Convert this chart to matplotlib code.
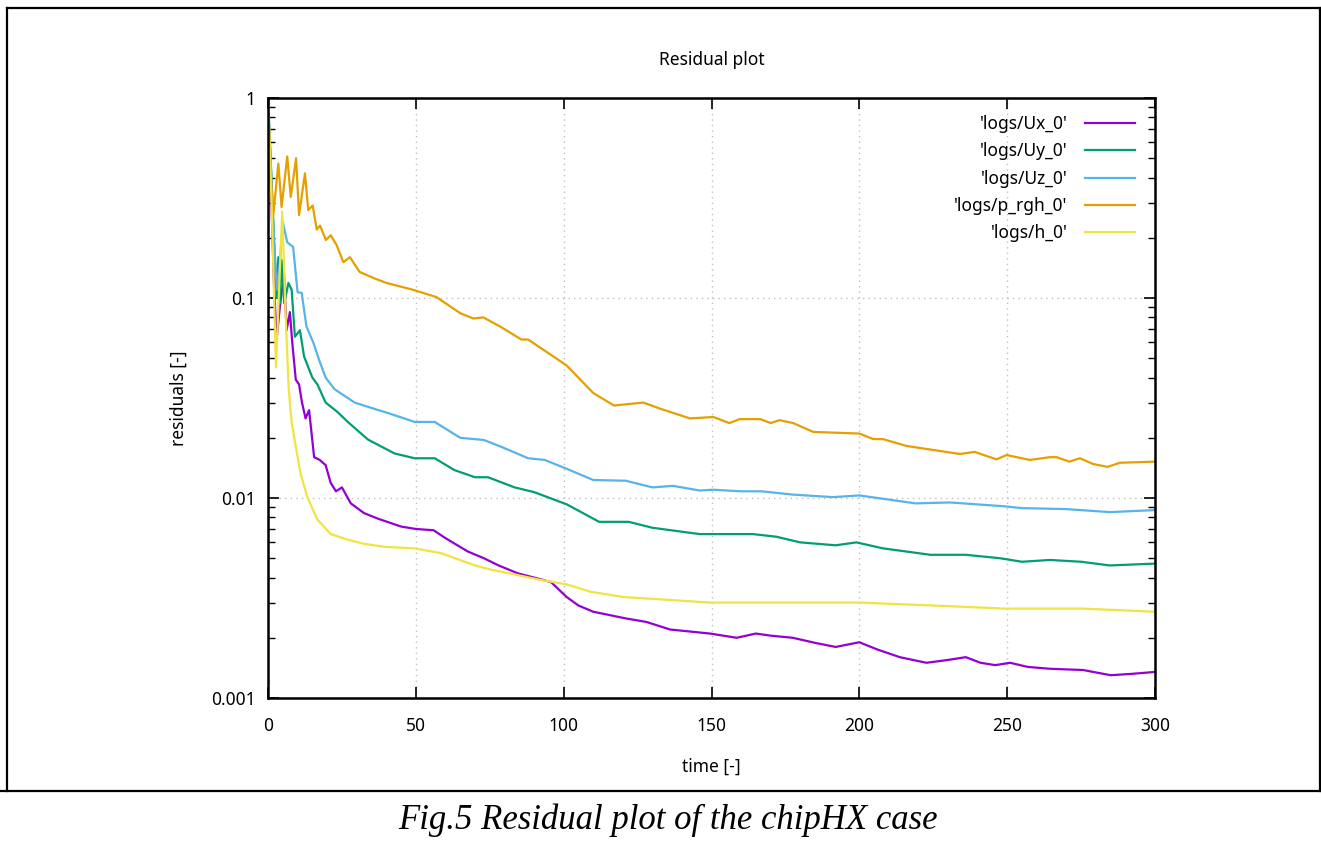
import matplotlib
matplotlib.use('Agg')
import matplotlib.pyplot as plt
from matplotlib.lines import Line2D
from matplotlib.ticker import LogLocator, FixedLocator, NullFormatter

plt.rcParams['font.family'] = ['Noto Sans', 'DejaVu Sans']

W, H = 1321, 841

# residual histories (time, residual)
ux_t = [0, 1, 2, 2.9, 4, 5.4, 6.3, 7.4, 8.2, 9.4,
        10.5, 11.5, 12.7, 13.9, 15.6, 17.5, 19.5, 21.2, 23, 25,
        28, 32.5, 37, 45, 50, 56, 60, 67.6, 73, 78,
        84.5, 90, 95.7, 101, 105, 110, 121, 128, 136, 149.5,
        158.5, 165, 170, 177.5, 185.5, 192, 200, 206, 213.7, 222.7,
        230, 236, 241, 246, 251, 257, 264.5, 275.7, 285, 292, 300]
ux_v = [1, 0.35, 0.12, 0.062, 0.09, 0.133, 0.069, 0.085, 0.06, 0.039,
        0.037, 0.03, 0.025, 0.0275, 0.016, 0.0155, 0.0146, 0.0119, 0.0108, 0.0113,
        0.0094, 0.0084, 0.0079, 0.0072, 0.007, 0.0069, 0.0063, 0.0054, 0.005, 0.0046,
        0.0042, 0.004, 0.0038, 0.0032, 0.0029, 0.0027, 0.0025, 0.0024, 0.0022, 0.0021,
        0.0020, 0.0021, 0.00205, 0.002, 0.00188, 0.0018, 0.0019, 0.00175, 0.0016, 0.0015,
        0.00155, 0.0016, 0.0015, 0.00146, 0.0015, 0.00143, 0.0014, 0.00138, 0.0013, 0.00132, 0.00135]

uy_t = [0, 1, 2, 3, 3.5, 4, 4.6, 5.5, 6.9, 8,
        9.1, 10.8, 12.2, 15, 16.7, 19.5, 23.4, 27, 33.8, 42.8,
        49.6, 56.4, 63, 70, 74.4, 83.4, 90, 101, 112, 122,
        130, 146, 164, 172, 180, 192, 199, 208, 224, 236,
        247.5, 255, 264.5, 275, 284.7, 300]
uy_v = [1, 0.45, 0.2, 0.1, 0.16, 0.094, 0.155, 0.094, 0.119, 0.11,
        0.064, 0.069, 0.051, 0.04, 0.037, 0.03, 0.027, 0.024, 0.0196, 0.0167,
        0.0158, 0.0158, 0.0138, 0.0127, 0.0127, 0.0113, 0.0107, 0.0093, 0.0076, 0.0076,
        0.0071, 0.0066, 0.0066, 0.0064, 0.006, 0.0058, 0.006, 0.0056, 0.0052, 0.0052,
        0.005, 0.0048, 0.0049, 0.0048, 0.0046, 0.0047]

uz_t = [0, 1, 2, 3, 4, 5, 6.5, 8.5, 10, 11.4,
        13, 15.3, 17.5, 19.5, 22.5, 29.3, 37, 40.6, 49.6, 56.4,
        65, 73, 79, 88, 93.6, 101, 110, 121, 130, 137,
        146, 150.5, 160, 167, 177.5, 191, 200, 219, 230.6, 248.6,
        255, 270, 284.7, 300]
uz_v = [1, 0.45, 0.2, 0.11, 0.15, 0.24, 0.19, 0.18, 0.107, 0.106,
        0.072, 0.06, 0.048, 0.04, 0.035, 0.03, 0.0276, 0.0266, 0.024, 0.024,
        0.02, 0.0195, 0.018, 0.0158, 0.0155, 0.014, 0.0123, 0.0122, 0.0113, 0.0115,
        0.0109, 0.011, 0.0108, 0.0108, 0.0104, 0.0101, 0.0103, 0.0094, 0.0095, 0.0091,
        0.0089, 0.0088, 0.0085, 0.0087]

prgh_t = [0, 1.6, 3.5, 4.6, 6.5, 7.7, 9.5, 10.5, 12.5, 13.6,
          15.1, 16.5, 17.6, 19.6, 21.2, 23.2, 25.5, 27.7, 31, 35.6,
          40, 49, 57, 65, 69.4, 72.8, 78.5, 85.7, 88, 101,
          110, 117, 127, 132.5, 142.7, 150.6, 156, 159.6, 166.5, 170,
          173, 177.6, 184.4, 200, 204.7, 208, 216, 234, 239, 246.4,
          249.8, 257.7, 264.5, 266.7, 271, 274.6, 279, 284, 288, 300]
prgh_v = [1, 0.245, 0.47, 0.285, 0.51, 0.32, 0.5, 0.26, 0.42, 0.275,
          0.29, 0.22, 0.23, 0.195, 0.206, 0.184, 0.151, 0.16, 0.135, 0.126,
          0.119, 0.11, 0.101, 0.084, 0.079, 0.08, 0.072, 0.062, 0.062, 0.046,
          0.0335, 0.029, 0.03, 0.028, 0.025, 0.0254, 0.0237, 0.0248, 0.0248, 0.0237,
          0.0245, 0.0237, 0.0214, 0.021, 0.0197, 0.0197, 0.0182, 0.0166, 0.017, 0.0156,
          0.0164, 0.0155, 0.016, 0.016, 0.0152, 0.0158, 0.0148, 0.0143, 0.015, 0.0152]

h_t = [0, 1.2, 2.7, 4.8, 6, 7, 8, 9.4, 11, 13.3,
       16.7, 21.2, 26.8, 32.5, 39.5, 49.6, 58.5, 70, 75, 85,
       92, 101, 109, 120, 149.5, 170, 200, 225, 249, 275, 300]
h_v = [1, 0.3, 0.045, 0.27, 0.08, 0.035, 0.024, 0.018, 0.0133, 0.0101,
       0.0078, 0.0066, 0.0062, 0.0059, 0.0057, 0.0056, 0.0053, 0.0046, 0.0044, 0.0041,
       0.0039, 0.0037, 0.0034, 0.0032, 0.003, 0.003, 0.003, 0.0029, 0.0028, 0.0028, 0.0027]

labels = ["'logs/Ux_0'", "'logs/Uy_0'", "'logs/Uz_0'", "'logs/p_rgh_0'", "'logs/h_0'"]
colors = ['#9400d3', '#009e73', '#56b4e9', '#e69f00', '#f0e442']
xticks = [0, 50, 100, 150, 200, 250, 300]
yticks = [0.001, 0.01, 0.1, 1]
ytick_labels = ['0.001', '0.01', '0.1', '1']

fs = 12.5

fig = plt.figure(figsize=(W / 100, H / 100), dpi=100)
ax = fig.add_axes([268 / W, 1 - 698 / H, 887 / W, 600 / H])

series = [(ux_t, ux_v), (uy_t, uy_v), (uz_t, uz_v), (prgh_t, prgh_v), (h_t, h_v)]
for (t, v), c, lab in zip(series, colors, labels):
    ax.plot(t, v, color=c, lw=1.6, label=lab)

ax.set_yscale('log')
ax.set_xlim(0, 300)
ax.set_ylim(0.001, 1)
ax.xaxis.set_major_locator(FixedLocator(xticks))
ax.yaxis.set_major_locator(FixedLocator(yticks))
ax.set_yticklabels(ytick_labels)
ax.yaxis.set_minor_locator(LogLocator(base=10, subs=range(2, 10)))
ax.yaxis.set_minor_formatter(NullFormatter())

ax.grid(True, which='major', color='#c0c0c0', lw=1.0, ls=(0, (1, 3)))
ax.tick_params(which='both', direction='in', top=True, right=True, labelsize=fs, colors='black')
ax.tick_params(which='major', length=8, width=1.2)
ax.tick_params(which='minor', length=5, width=1.0)
ax.tick_params(axis='y', pad=9)
ax.tick_params(axis='x', pad=14)
for s in ax.spines.values():
    s.set_linewidth(1.8)

ax.set_title('Residual plot', fontsize=fs, pad=24)
ax.set_xlabel('time [-]', fontsize=fs, labelpad=16)
ax.set_ylabel('residuals [-]', fontsize=fs, labelpad=17)

ax.legend(loc='upper right', bbox_to_anchor=((1135 - 268) / 887, (698 - 115) / 600),
          frameon=False, markerfirst=False, fontsize=fs, handlelength=2.9,
          handletextpad=1.0, labelspacing=0.54, borderpad=0, borderaxespad=0)

# page frame around the figure and caption rule
def px_line(x0, y0, x1, y1):
    fig.add_artist(Line2D([x0 / W, x1 / W], [1 - y0 / H, 1 - y1 / H],
                          transform=fig.transFigure, color='black', lw=1.6))

px_line(7, 8, W, 8)
px_line(7, 8, 7, 791)
px_line(W - 1, 8, W - 1, 791)
px_line(0, 791, W, 791)

fig.text(668 / W, 1 - 820 / H, 'Fig.5 Residual plot of the chipHX case', ha='center', va='center',
         fontsize=25, style='italic', family='Liberation Serif')

fig.savefig('out.png', dpi=100)
